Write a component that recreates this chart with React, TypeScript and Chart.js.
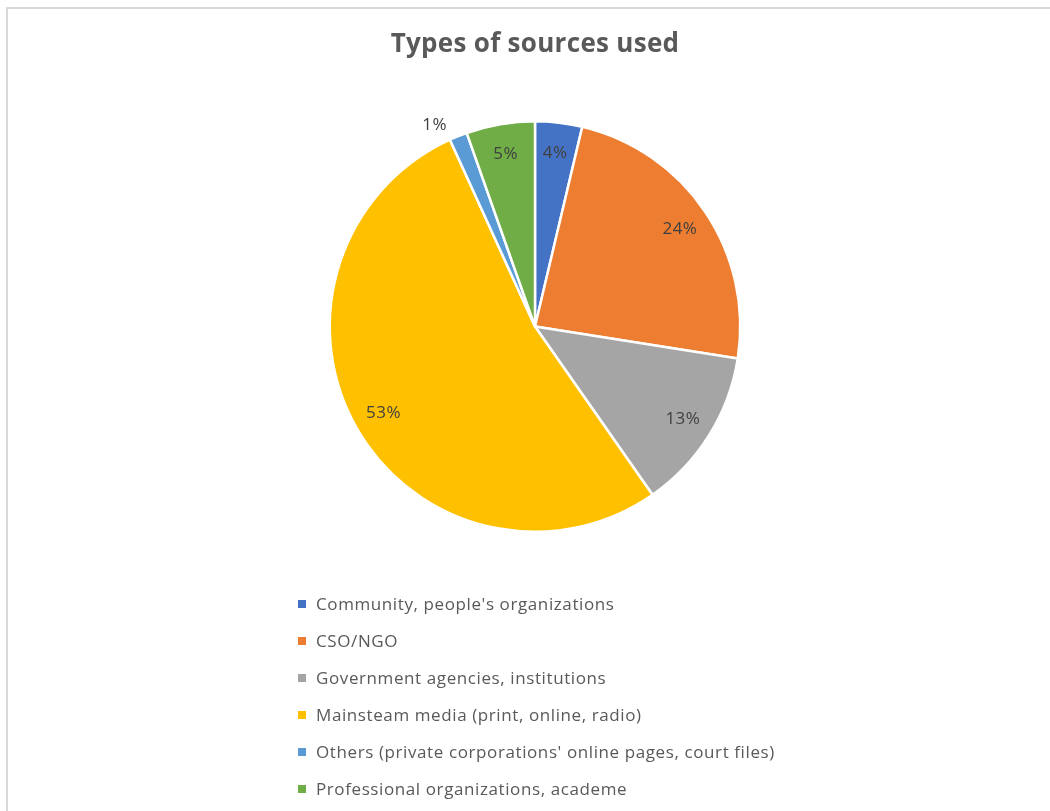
import React, { useEffect, useRef } from "react";
import { Chart, registerables } from "chart.js";

Chart.register(...registerables);

const titleText = "Types of sources used";
const categories = [
  "Community, people's organizations",
  "CSO/NGO",
  "Government agencies, institutions",
  "Mainsteam media (print, online, radio)",
  "Others (private corporations' online pages, court files)",
  "Professional organizations, academe",
];
const shares = [3.7, 23.8, 12.8, 52.9, 1.4, 5.4];
const colors = ["#4472C4", "#ED7D31", "#A5A5A5", "#FFC000", "#5B9BD5", "#70AD47"];
const outsideLabel = [false, false, false, false, true, false];

const FONT = "'Open Sans', 'Noto Sans', sans-serif";

const decorPlugin = {
  id: "decor",
  afterDraw(chart: any) {
    const ctx = chart.ctx;
    ctx.save();
    // title
    ctx.fillStyle = "#595959";
    ctx.font = `bold 26px ${FONT}`;
    (ctx as any).letterSpacing = "0.3px";
    ctx.textAlign = "center";
    ctx.textBaseline = "middle";
    ctx.fillText(titleText, 535, 45);

    // data labels
    const meta = chart.getDatasetMeta(0);
    const data = chart.data.datasets[0].data as number[];
    const total = data.reduce((a, b) => a + b, 0);
    ctx.font = `17px ${FONT}`;
    (ctx as any).letterSpacing = "0.5px";
    ctx.fillStyle = "#404040";
    meta.data.forEach((arc: any, i: number) => {
      const p = arc.getProps(["x", "y", "startAngle", "endAngle", "outerRadius"], true);
      const mid = (p.startAngle + p.endAngle) / 2;
      const r = outsideLabel[i] ? p.outerRadius * 1.06 : p.outerRadius * 0.85;
      const x = p.x + Math.cos(mid) * r;
      const y = p.y + Math.sin(mid) * r;
      const pct = Math.round((data[i] / total) * 100) + "%";
      ctx.fillText(pct, outsideLabel[i] ? x - 19 : x, y);
    });

    // legend
    ctx.textAlign = "left";
    ctx.font = `17px ${FONT}`;
    (ctx as any).letterSpacing = "0.6px";
    const labels = chart.data.labels as string[];
    labels.forEach((lab, i) => {
      const cy = 604 + i * 37;
      ctx.fillStyle = colors[i];
      ctx.fillRect(298, cy - 4, 8, 8);
      ctx.fillStyle = "#595959";
      ctx.fillText(lab, 316, cy + 1);
    });
    ctx.restore();
  },
};

export default function App() {
  const ref = useRef<HTMLCanvasElement | null>(null);
  useEffect(() => {
    if (!ref.current) return;
    const chart = new Chart(ref.current, {
      type: "pie",
      data: {
        labels: categories,
        datasets: [
          {
            data: shares,
            backgroundColor: colors,
            borderColor: "#ffffff",
            borderWidth: 2.5,
          },
        ],
      },
      options: {
        responsive: true,
        maintainAspectRatio: false,
        animation: false,
        layout: { padding: { top: 120, bottom: 278, left: 20, right: 0 } },
        plugins: {
          legend: { display: false },
          title: { display: false },
          tooltip: { enabled: false },
        },
      },
      plugins: [decorPlugin],
    });
    return () => chart.destroy();
  }, []);
  return (
    <div style={{ position: "fixed", left: 0, top: 0, width: 1050, height: 811, background: "#fff", overflow: "hidden" }}>
      <div
        style={{
          position: "absolute",
          left: 6,
          top: 7,
          width: 1100,
          height: 900,
          borderLeft: "2px solid #d9d9d9",
          borderTop: "2px solid #d9d9d9",
        }}
      />
      <div style={{ position: "absolute", left: 0, top: 0, width: 1050, height: 811 }}>
        <canvas ref={ref} />
      </div>
    </div>
  );
}
